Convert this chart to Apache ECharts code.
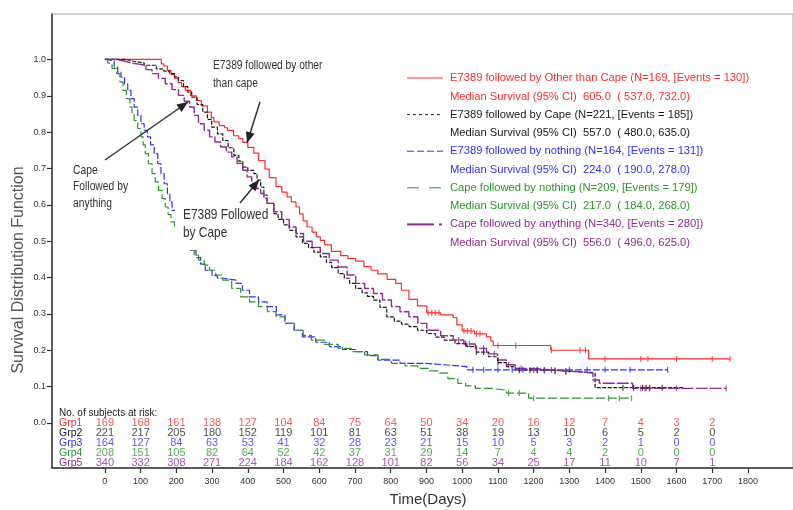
<!DOCTYPE html>
<html><head><meta charset="utf-8">
<script src="https://cdn.jsdelivr.net/npm/echarts@6/dist/echarts.min.js"></script>
<style>html,body{margin:0;padding:0;background:#fff}#c{width:793px;height:510px}</style>
</head><body><div id="c"></div>
<script>
// ---- data ----
const xTicks = [0,100,200,300,400,500,600,700,800,900,1000,1100,1200,1300,1400,1500,1600,1700,1800];
const yTicks = [0,0.1,0.2,0.3,0.4,0.5,0.6,0.7,0.8,0.9,1.0];
const riskTimes = [0,100,200,300,400,500,600,700,800,900,1000,1100,1200,1300,1400,1500,1600,1700];
const risk1 = [169,168,161,138,127,104,84,75,64,50,34,20,16,12,7,4,3,2];
const risk2 = [221,217,205,180,152,119,101,81,63,51,38,19,13,10,6,5,2,0];
const risk3 = [164,127,84,63,53,41,32,28,23,21,15,10,5,3,2,1,0,0];
const risk4 = [208,151,105,82,64,52,42,37,31,29,14,7,4,4,2,0,0,0];
const risk5 = [340,332,308,271,224,184,162,128,101,82,56,34,25,17,11,10,7,1];
const groupNames = ['Grp1','Grp2','Grp3','Grp4','Grp5'];

const t1 = [0,158,165,175,185,195,205,215,225,240,256,270,287,298,305,320,335,343,360,375,386,400,417,430,448,460,479,495,510,522,535,545,555,566,580,592,603,615,634,660,680,702,725,745,764,790,814,830,851,875,901,940,975,985,1000,1035,1068,1080,1087,1248,1354,1750];
const s1 = [1.0,0.988,0.982,0.97,0.958,0.948,0.937,0.925,0.915,0.9,0.887,0.872,0.855,0.84,0.828,0.818,0.812,0.805,0.79,0.782,0.772,0.758,0.742,0.722,0.698,0.675,0.65,0.635,0.622,0.608,0.594,0.575,0.556,0.539,0.525,0.512,0.502,0.49,0.472,0.46,0.452,0.445,0.43,0.42,0.41,0.395,0.384,0.365,0.34,0.322,0.303,0.297,0.29,0.27,0.253,0.245,0.237,0.225,0.213,0.2,0.176,0.176];
const t2 = [0,60,81,110,144,165,181,195,206,220,232,243,258,274,287,299,315,330,345,361,375,386,400,417,426,436,445,454,473,485,500,516,535,553,570,585,603,620,635,653,670,685,702,720,735,752,770,789,810,830,851,875,901,925,950,980,1013,1040,1074,1100,1124,1149,1250,1300,1359,1372,1620];
const s2 = [1.0,0.995,0.99,0.984,0.974,0.968,0.961,0.952,0.942,0.925,0.91,0.896,0.876,0.855,0.835,0.814,0.795,0.777,0.757,0.736,0.72,0.704,0.695,0.686,0.668,0.649,0.627,0.604,0.576,0.56,0.545,0.53,0.512,0.494,0.482,0.47,0.457,0.442,0.427,0.411,0.398,0.384,0.37,0.358,0.348,0.338,0.318,0.292,0.28,0.272,0.265,0.255,0.246,0.236,0.228,0.218,0.21,0.195,0.182,0.166,0.155,0.145,0.142,0.139,0.137,0.097,0.097];
const t3 = [0,8,26,36,45,55,64,73,82,92,101,110,119,128,138,148,157,166,175,182,188,200,215,224,243,255,268,281,300,315,330,367,385,405,430,454,480,504,530,553,590,628,665,702,735,764,826,900,950,1013,1575];
const s3 = [1.0,0.995,0.979,0.965,0.951,0.933,0.915,0.892,0.869,0.846,0.823,0.805,0.787,0.765,0.741,0.713,0.686,0.658,0.631,0.608,0.585,0.56,0.53,0.5,0.475,0.455,0.437,0.42,0.405,0.398,0.393,0.384,0.365,0.347,0.333,0.32,0.297,0.274,0.255,0.237,0.222,0.21,0.202,0.196,0.185,0.173,0.164,0.16,0.155,0.146,0.146];
const t4 = [0,8,20,33,42,51,60,70,76,82,92,101,107,113,122,132,141,150,160,169,177,185,195,205,217,228,237,250,262,278,293,310,330,355,380,405,430,455,479,505,529,555,578,615,653,690,727,765,802,840,876,905,938,960,988,1010,1037,1080,1124,1186,1474];
const s4 = [1.0,0.99,0.975,0.961,0.938,0.915,0.892,0.869,0.85,0.832,0.81,0.787,0.765,0.741,0.713,0.686,0.663,0.64,0.617,0.594,0.573,0.553,0.535,0.515,0.498,0.485,0.475,0.462,0.448,0.434,0.42,0.407,0.393,0.37,0.347,0.333,0.32,0.306,0.292,0.274,0.255,0.241,0.228,0.216,0.205,0.196,0.187,0.175,0.164,0.157,0.15,0.143,0.137,0.122,0.109,0.102,0.095,0.09,0.082,0.068,0.068];
const t5 = [0,30,57,75,95,115,132,150,169,188,206,222,237,250,262,278,293,308,324,340,355,370,386,398,411,424,436,445,454,473,495,516,535,556,580,603,628,653,678,702,727,752,777,802,826,851,876,901,940,975,1005,1037,1068,1099,1124,1149,1200,1261,1323,1366,1384,1477,1739];
const s5 = [1.0,0.995,0.99,0.987,0.984,0.972,0.961,0.948,0.933,0.917,0.901,0.885,0.869,0.846,0.823,0.805,0.787,0.773,0.759,0.745,0.732,0.714,0.695,0.677,0.659,0.645,0.631,0.618,0.604,0.581,0.56,0.539,0.521,0.5,0.483,0.466,0.448,0.429,0.407,0.384,0.37,0.356,0.338,0.32,0.306,0.292,0.274,0.255,0.24,0.228,0.217,0.205,0.19,0.173,0.16,0.15,0.145,0.141,0.137,0.118,0.109,0.095,0.095];

const cens1 = [905,915,925,935,1005,1015,1025,1040,1050,1100,1150,1250,1330,1345,1400,1500,1520,1600,1700,1750];
const cens2 = [1010,1040,1060,1100,1160,1190,1210,1230,1260,1290,1450,1480,1505,1515,1525,1560];
const cens3 = [1030,1060,1100,1140,1170,1210,1250,1300,1350,1400,1470,1575];
const cens4 = [1130,1160,1200,1410,1440,1474];
const cens5 = [990,1020,1040,1060,1090,1130,1165,1200,1230,1260,1290,1500,1512,1524,1600,1739];

const legendTexts = [
  ['E7389 followed by Other than Cape (N=169, [Events = 130])','Median Survival (95% CI)  605.0  ( 537.0, 732.0)'],
  ['E7389 followed by Cape (N=221, [Events = 185])','Median Survival (95% CI)  557.0  ( 480.0, 635.0)'],
  ['E7389 followed by nothing (N=164, [Events = 131])','Median Survival (95% CI)  224.0  ( 190.0, 278.0)'],
  ['Cape followed by nothing (N=209, [Events = 179])','Median Survival (95% CI)  217.0  ( 184.0, 268.0)'],
  ['Cape followed by anything (N=340, [Events = 280])','Median Survival (95% CI)  556.0  ( 496.0, 625.0)']
];

// ---- styles ----
const colors = ['#ff2b2b','#1a1a1a','#2f2fff','#2a962a','#922a92'];
const dashes = [null,[4,1.5],[7,2],[9,3],[12,2]];
const widths = [1.2,1.2,1.2,1.2,1.4];
const curves = [[t1,s1],[t2,s2],[t3,s3],[t4,s4],[t5,s5]];
const cens = [cens1,cens2,cens3,cens4,cens5];
const risks = [risk1,risk2,risk3,risk4,risk5];

function sAt(ts, ss, t){ let s = ss[0]; for(let i=0;i<ts.length;i++){ if(ts[i]<=t) s = ss[i]; } return s; }

const chart = echarts.init(document.getElementById('c'), null, {renderer:'canvas'});
const series = [];
curves.forEach((c,g)=>{
  series.push({type:'line', step:'end', symbol:'none', silent:true, z:3,
    data: c[0].map((t,i)=>[t,c[1][i]]),
    lineStyle:{color:colors[g], width:widths[g], type: dashes[g]||'solid'}});
  series.push({type:'scatter', symbol:'rect', symbolSize:[1.2,6], silent:true, z:3,
    itemStyle:{color:colors[g]},
    data: cens[g].map(t=>[t, sAt(c[0],c[1],t)])});
});
const ROWPX = 10/363.7;
risks.forEach((r,g)=>{
  series.push({type:'scatter', symbol:'circle', symbolSize:1, silent:true, z:4,
    itemStyle:{color:'rgba(0,0,0,0)'},
    label:{show:true, position:'inside', color:colors[g], fontSize:11, fontFamily:'Liberation Sans, Arial',
      formatter:p=>String(p.value[2])},
    data: riskTimes.map((t,i)=>[t, -g*ROWPX, r[i]])});
});

// graphics
const G = [];
const annFont = '"Liberation Sans", Arial';
function arrow(x1,y1,x2,y2){
  G.push({type:'line', z:100, shape:{x1,y1,x2,y2}, style:{stroke:'#333', lineWidth:1.5}});
  const a = Math.atan2(y2-y1,x2-x1), L=11, W=4.5;
  const bx = x2 - L*Math.cos(a), by = y2 - L*Math.sin(a);
  G.push({type:'polygon', z:100, shape:{points:[[x2,y2],[bx+W*Math.sin(a),by-W*Math.cos(a)],[bx-W*Math.sin(a),by+W*Math.cos(a)]]}, style:{fill:'#222'}});
}
// white box behind "E7389 Followed by Cape"
G.push({type:'rect', z:99, shape:{x:175,y:204,width:97,height:46}, style:{fill:'#fff'}});
G.push({type:'text', z:100, x:183, y:206, scaleX:0.82, style:{x:0,y:0,text:'E7389 Followed\nby Cape', fill:'#333', font:'14.5px '+annFont, lineHeight:18}});
G.push({type:'text', z:100, x:213, y:57, scaleX:0.85, style:{x:0,y:0,text:'E7389 followed by other\nthan cape', fill:'#333', font:'12px '+annFont, lineHeight:18}});
G.push({type:'text', z:100, x:73, y:162, scaleX:0.86, style:{x:0,y:0,text:'Cape\nFollowed by\nanything', fill:'#333', font:'12px '+annFont, lineHeight:16.5}});
arrow(260,102,247,143);
arrow(105,160,188,102);
arrow(240,203,259,180);
// legend
const legDash = [null,[3,3],[7,3],[12,10],null];
legendTexts.forEach((tx,g)=>{
  const y0 = 78 + g*36.6;
  if(g===4){
    G.push({type:'line', z:100, shape:{x1:407,y1:y0,x2:434,y2:y0}, style:{stroke:colors[g], lineWidth:2}});
    G.push({type:'line', z:100, shape:{x1:439,y1:y0,x2:442,y2:y0}, style:{stroke:colors[g], lineWidth:2}});
  } else {
    G.push({type:'line', z:100, shape:{x1:407,y1:y0,x2:443,y2:y0}, style:{stroke:colors[g], lineWidth:1, lineDash:legDash[g]||null}});
  }
  G.push({type:'text', z:100, style:{x:450,y:y0,text:tx[0], fill:colors[g], font:'11.2px "Liberation Sans", Arial', textVerticalAlign:'middle'}});
  G.push({type:'text', z:100, style:{x:450,y:y0+18.5,text:tx[1], fill:colors[g], font:'11.2px "Liberation Sans", Arial', textVerticalAlign:'middle'}});
});
// at-risk labels
G.push({type:'text', z:100, style:{x:59,y:413.5,text:'No. of subjects at risk:', fill:'#222', font:'10px "Liberation Sans", Arial', textVerticalAlign:'middle'}});
groupNames.forEach((n,g)=>{
  G.push({type:'text', z:100, style:{x:59,y:423.5+g*10,text:n, fill:colors[g], font:'10.5px "Liberation Sans", Arial', textVerticalAlign:'middle'}});
});
// axis titles
G.push({type:'text', z:100, x:19, y:270, rotation:Math.PI/2, style:{x:0,y:0,text:'Survival Distribution Function', fill:'#555', font:'16px "Liberation Sans", Arial', textAlign:'center', textVerticalAlign:'middle'}});
G.push({type:'text', z:100, style:{x:428,y:500,text:'Time(Days)', fill:'#333', font:'15px "Liberation Sans", Arial', textAlign:'center', textVerticalAlign:'middle'}});

chart.setOption({
  animation:false,
  backgroundColor:'#fff',
  grid:{left:52, right:-2, top:14, bottom:42, show:true, borderColor:'#aaa', borderWidth:1},
  xAxis:{type:'value', min:-148, max:1926,
    axisLine:{onZero:false, lineStyle:{color:'#333', width:1.5}},
    axisTick:{customValues:xTicks, length:5, lineStyle:{color:'#333', width:1.2}},
    axisLabel:{customValues:xTicks, color:'#333', fontSize:9, margin:9, fontFamily:'Liberation Sans, Arial',
      formatter:v=>String(v)},
    splitLine:{show:false}},
  yAxis:{type:'value', min:-0.124, max:1.125,
    axisLine:{show:true, onZero:false, lineStyle:{color:'#333', width:1.5}},
    axisTick:{show:true, customValues:yTicks, length:5, lineStyle:{color:'#333', width:1.2}},
    axisLabel:{customValues:yTicks, color:'#333', fontSize:9, margin:6, fontFamily:'Liberation Sans, Arial',
      formatter:v=>v.toFixed(1)},
    splitLine:{show:false}},
  graphic:G,
  series:series
});
</script></body></html>
